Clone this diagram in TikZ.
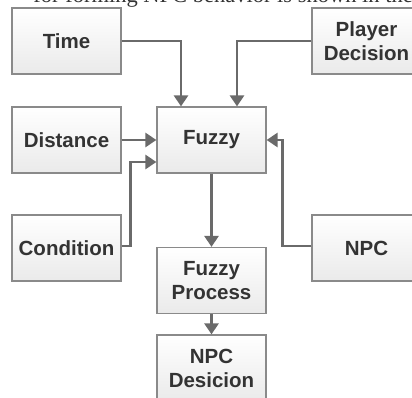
\documentclass[tikz,border=0pt]{standalone}
\usepackage{fontspec}
\setmainfont{Liberation Sans}
\newfontfamily\captionserif{Liberation Serif}
\usetikzlibrary{arrows.meta}
\definecolor{boxline}{HTML}{8A8A8A}
\definecolor{boxfill}{HTML}{EAEAEA}
\definecolor{flowgray}{HTML}{6A6A6A}
\definecolor{labelgray}{HTML}{333333}

\begin{document}
\begin{tikzpicture}[
    block/.style={rectangle, draw=boxline, line width=1.2pt, top color=white, bottom color=boxfill,
                  minimum width=109pt, minimum height=66pt, inner sep=2pt,
                  font=\bfseries\fontsize{20.5}{24}\selectfont, text=labelgray, align=center},
    flow/.style={draw=flowgray, line width=2.6pt, -{Triangle[length=11pt, width=14pt]}},
    x=1pt, y=1pt]

    \useasboundingbox (0, 0) rectangle (412, 398);

    % ----- cut-off line of the surrounding text
    \node[anchor=base east, inner sep=0pt, font=\captionserif\fontsize{22.5}{26}\selectfont, text=black!80] (captiontail) at (413, 395.5) {for forming NPC behavior is shown in the};

    % ----- input blocks
    \node[block] (time)   at ( 66.5, 357) {Time};
    \node[block] (player) at (366.5, 357) {Player\\Decision};
    \node[block] (dist)   at ( 66.5, 258) {Distance};
    \node[block] (fuzzy)  at (211.5, 258) {Fuzzy};
    \node[block] (cond)   at ( 66.5, 150) {Condition};
    \node[block] (npc)    at (366.5, 150) {NPC};

    % ----- processing chain
    \node[block] (proc)   at (211.5, 117.5) {Fuzzy\\Process};
    \node[block] (decide) at (211.5,  30) {NPC\\Desicion};

    % ----- connectors into the fuzzy block
    \draw[flow] (time.east) -| ([xshift=-30.5pt]fuzzy.north);
    \draw[flow] (player.west) -| ([xshift=25.5pt]fuzzy.north);
    \draw[flow] (dist) -- (fuzzy);
    \draw[flow] ([yshift=2pt]cond.east) -- ++(9, 0) |- ([yshift=-22pt]fuzzy.west);
    \draw[flow] ([yshift=2pt]npc.west) -- ++(-29, 0) |- (fuzzy.east);

    % ----- down the chain
    \draw[flow] (fuzzy) -- (proc);
    \draw[flow] (proc) -- (decide);
\end{tikzpicture}
\end{document}
